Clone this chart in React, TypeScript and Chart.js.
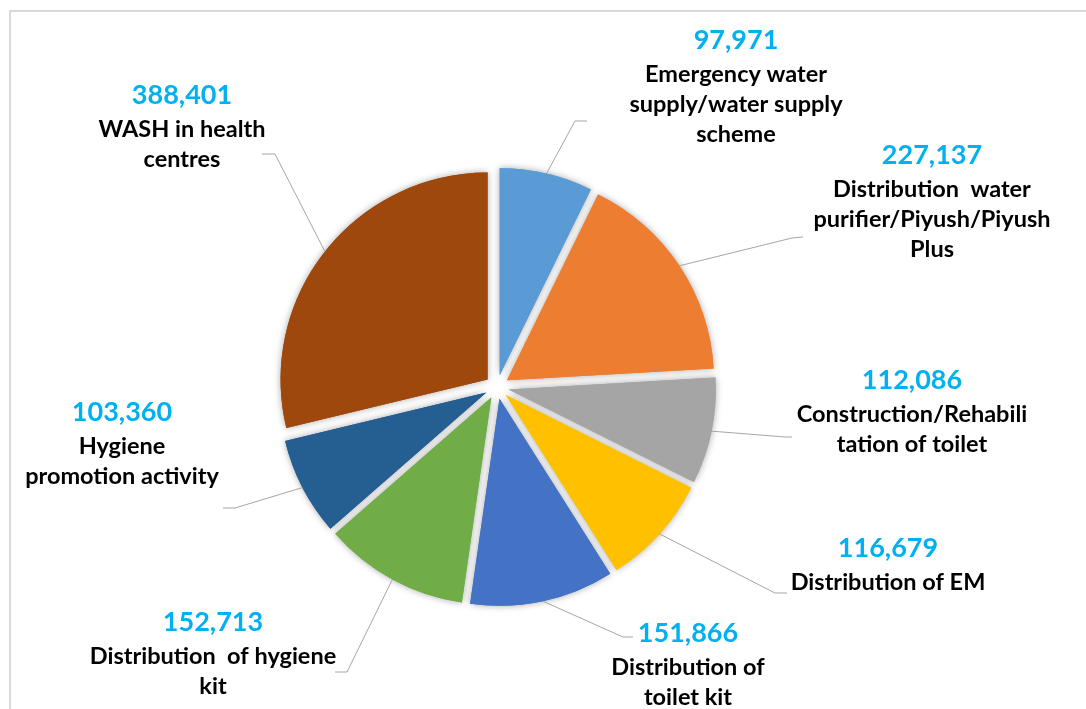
import React, { useEffect, useRef } from "react";
import { Chart, ArcElement, PieController } from "chart.js";

Chart.register(ArcElement, PieController);

// ---- data ----
const categories: string[] = [
  "Emergency water supply/water supply scheme",
  "Distribution water purifier/Piyush/Piyush Plus",
  "Construction/Rehabilitation of toilet",
  "Distribution of EM",
  "Distribution of toilet kit",
  "Distribution of hygiene kit",
  "Hygiene promotion activity",
  "WASH in health centres",
];
// wrapped label lines as shown in the picture
const labelLines: string[][] = [
  ["Emergency water", "supply/water supply", "scheme"],
  ["Distribution  water", "purifier/Piyush/Piyush", "Plus"],
  ["Construction/Rehabili", "tation of toilet"],
  ["Distribution of EM"],
  ["Distribution of", "toilet kit"],
  ["Distribution  of hygiene", "kit"],
  ["Hygiene", "promotion activity"],
  ["WASH in health", "centres"],
];
const values: number[] = [97971, 227137, 112086, 116679, 151866, 152713, 103360, 388401];
const colors: string[] = [
  "#5b9bd5",
  "#ed7d31",
  "#a5a5a5",
  "#ffc000",
  "#4472c4",
  "#70ad47",
  "#255e91",
  "#9e480e",
];

// ---- layout of labels (positions only) ----
type LabelLayout = { cx: number; numY: number; elbow: [number, number]; end: [number, number] };
const labelLayout: LabelLayout[] = [
  { cx: 736, numY: 40, elbow: [575, 121], end: [587, 121] },
  { cx: 932, numY: 155, elbow: [792, 238], end: [803, 237] },
  { cx: 912, numY: 380, elbow: [785, 437], end: [792, 437] },
  { cx: 888, numY: 548, elbow: [775, 593], end: [787, 593] },
  { cx: 688, numY: 633, elbow: [623, 637], end: [633, 637] },
  { cx: 213, numY: 622, elbow: [347, 672], end: [335, 672] },
  { cx: 122, numY: 412, elbow: [235, 508], end: [223, 508] },
  { cx: 182, numY: 95, elbow: [275, 154], end: [262, 154] },
];

const EXPLODE = 12;
const NUM_FONT = "bold 27px Lato";
const LABEL_FONT = "bold 23.5px Lato";

const fmt = (v: number) => v.toLocaleString("en-US");

const frameAndPiePlugin = {
  id: "explodedPie",
  beforeDraw(chart: any) {
    const ctx = chart.ctx as CanvasRenderingContext2D;
    ctx.save();
    ctx.fillStyle = "#ffffff";
    ctx.fillRect(0, 0, chart.width, chart.height);
    ctx.strokeStyle = "#d9d9d9";
    ctx.lineWidth = 2;
    ctx.beginPath();
    ctx.moveTo(10, chart.height);
    ctx.lineTo(10, 11);
    ctx.lineTo(chart.width, 11);
    ctx.stroke();
    ctx.restore();
  },
  beforeDatasetsDraw(chart: any) {
    const ctx = chart.ctx as CanvasRenderingContext2D;
    const meta = chart.getDatasetMeta(0);
    const bg = chart.data.datasets[0].backgroundColor as string[];
    const paths = meta.data.map((arc: any, i: number) => {
      const { x, y, startAngle, endAngle, outerRadius } = arc.getProps(
        ["x", "y", "startAngle", "endAngle", "outerRadius"],
        true
      );
      const mid = (startAngle + endAngle) / 2;
      const ox = x + Math.cos(mid) * EXPLODE;
      const oy = y + Math.sin(mid) * EXPLODE;
      const p = new Path2D();
      p.moveTo(ox, oy);
      p.arc(ox, oy, outerRadius, startAngle, endAngle);
      p.closePath();
      return { p, color: bg[i] };
    });
    ctx.save();
    ctx.shadowColor = "rgba(0,0,0,0.35)";
    ctx.shadowBlur = 7;
    paths.forEach(({ p, color }: any) => {
      ctx.fillStyle = color;
      ctx.fill(p);
    });
    ctx.restore();
    ctx.save();
    paths.forEach(({ p, color }: any) => {
      ctx.fillStyle = color;
      ctx.fill(p);
    });
    ctx.restore();
    return false;
  },
  afterDraw(chart: any) {
    const ctx = chart.ctx as CanvasRenderingContext2D;
    const meta = chart.getDatasetMeta(0);
    const data = chart.data.datasets[0].data as number[];
    meta.data.forEach((arc: any, i: number) => {
      const { x, y, startAngle, endAngle, outerRadius } = arc.getProps(
        ["x", "y", "startAngle", "endAngle", "outerRadius"],
        true
      );
      const mid = (startAngle + endAngle) / 2;
      const r = outerRadius + EXPLODE;
      const sx = x + Math.cos(mid) * r;
      const sy = y + Math.sin(mid) * r;
      const L = labelLayout[i];
      ctx.save();
      ctx.strokeStyle = "#a6a6a6";
      ctx.lineWidth = 1;
      ctx.beginPath();
      ctx.moveTo(sx, sy);
      ctx.lineTo(L.elbow[0], L.elbow[1]);
      ctx.lineTo(L.end[0], L.end[1]);
      ctx.stroke();
      ctx.textAlign = "center";
      ctx.textBaseline = "middle";
      ctx.fillStyle = "#00b0f0";
      ctx.font = NUM_FONT;
      ctx.fillText(fmt(data[i]), L.cx, L.numY);
      ctx.fillStyle = "#000000";
      ctx.font = LABEL_FONT;
      labelLines[i].forEach((line, j) => {
        ctx.fillText(line, L.cx, L.numY + 34 + j * 30);
      });
      ctx.restore();
    });
  },
};

export default function App() {
  const ref = useRef<HTMLCanvasElement | null>(null);
  useEffect(() => {
    if (!ref.current) return;
    const chart = new Chart(ref.current, {
      type: "pie",
      data: {
        labels: categories,
        datasets: [
          {
            data: values,
            backgroundColor: colors,
            borderWidth: 0,
          },
        ],
      },
      options: {
        responsive: false,
        animation: false,
        radius: 207,
        layout: { padding: { left: 0, right: 92, top: 65, bottom: 0 } },
        plugins: {
          legend: { display: false },
          tooltip: { enabled: false },
        },
        events: [],
      } as any,
      plugins: [frameAndPiePlugin as any],
    });
    return () => chart.destroy();
  }, []);
  return (
    <div style={{ position: "absolute", left: 0, top: 0, width: 1086, height: 709 }}>
      <canvas ref={ref} width={1086} height={709} style={{ width: 1086, height: 709 }} />
    </div>
  );
}
